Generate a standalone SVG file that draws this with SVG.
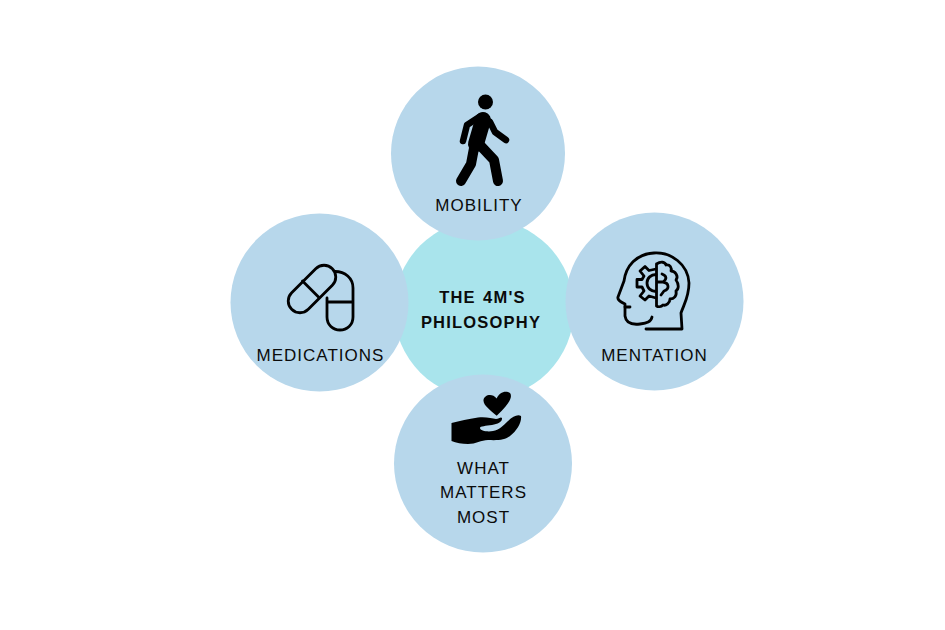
<svg xmlns="http://www.w3.org/2000/svg" width="945" height="630" viewBox="0 0 945 630">
<style>
.c{fill:#b7d7eb}
.t{font-family:"Liberation Sans",Arial,sans-serif;font-size:17px;letter-spacing:1px;fill:#0b0b0b;text-anchor:middle}
.b{font-family:"Liberation Sans",Arial,sans-serif;font-size:16.500px;font-weight:700;letter-spacing:1.200px;word-spacing:1.500px;fill:#0b0b0b;text-anchor:middle}
.l{fill:none;stroke:#000;stroke-linecap:round;stroke-linejoin:round}
</style>
<rect width="945" height="630" fill="#fff"/>
<g id="center"><circle cx="484" cy="309" r="90" fill="#a9e4ec"/>
<text class="b" x="482.500" y="302.500">THE 4M'S</text><text class="b" x="481" y="327.500">PHILOSOPHY</text></g>
<g id="mobility"><circle class="c" cx="478" cy="153.500" r="87"/>
<circle cx="485.500" cy="102" r="7.500"/>
<path class="l" stroke-width="6.500" d="M480 116.500L467 125L463 141"/>
<path class="l" stroke-width="6.500" d="M490 122L495 132L506 140"/>
<path class="l" stroke-width="16" d="M483 120L476 144"/>
<path class="l" stroke-width="10" d="M475 143L471 164L461 181"/>
<path class="l" stroke-width="10" d="M478 143L494 160L498 181"/>
<text class="t" x="479" y="211">MOBILITY</text></g>
<g id="mentation"><circle class="c" cx="654.500" cy="301.500" r="89"/>
<path class="l" stroke-width="2.800" d="M646 329L682 329L681 313C684 304 689 297 689 283C688 264 671 252 654 253C636 254 626 266 624 281L618 297C617 300 621 302 625 304L625 316C626 323 632 325 640 324C647 323 651 322 652 317"/>
<path class="l" stroke-width="2.800" d="M625 307L630 307"/>
<path class="l" stroke-width="2.800" d="M656.500 264L656.500 306M656.500 264C661 261 665 262 666 265C670 264 672 268 671 271C675 271 679 276 676 280C679 284 679 289 676 291C677 296 674 299 670 299C670 303 666 306 663 305C661 307 658 307 656.500 306M662 274C667 276 667 279 663 282C669 283 670 289 664 291L661 295M657 282L662 282"/>
<path class="l" stroke-width="2.800" d="M656 269L649 270.500L645 266.500L640 271L644 276L642 279.500L637 279.500L637 287L642 287L644 291L640 296L645 300L649 296L656 298M656 274.500C651 274.500 647 278 647 283C647 288 651 291.500 656 291.500"/>
<text class="t" x="654.500" y="361">MENTATION</text></g>
<g id="what-matters-most"><circle class="c" cx="483" cy="463.500" r="89"/>
<path d="M496.700 415.700C490 410 483 405 483.500 400C484 395 492 392.500 496.700 398.500C499 392 506 390 510 393C513 397 509 404 496.700 415.700Z"/>
<path d="M451.500 423C460 421 468 419 478 417.500C486 416.500 492 418.500 496 419C499 418.500 501 416.500 502 418C502.500 422 498 424 492 425C486 426 480 426 480 428C480 431 488 432 493 431C499 430 503 426 508 421C513 416 518 414 521 416C522 422 517 431 510 436C505 440 498 440.500 488 440C481 440 476 444 468 444C462 444 456 443 451.500 441Z"/>
<text class="t" x="483.500" y="474">WHAT</text><text class="t" x="483.500" y="498">MATTERS</text><text class="t" x="483.500" y="523">MOST</text></g>
<g id="medications"><circle class="c" cx="319.500" cy="302.500" r="89"/>
<rect class="l" stroke-width="2.800" x="283.250" y="277.250" width="57.500" height="23.500" rx="11.750" transform="rotate(-45 312 289)"/>
<path class="l" stroke-width="2.800" d="M302.500 281L319 297.500"/>
<path class="l" stroke-width="2.800" d="M335 271.500C345 271.500 353 278 353 288L353 317C353 325 347 330 340 330C333 330 327 325 327 317L327 298M327 302L353 302"/>
<text class="t" x="320.500" y="361">MEDICATIONS</text></g>
<g id="connectors"/>
</svg>
